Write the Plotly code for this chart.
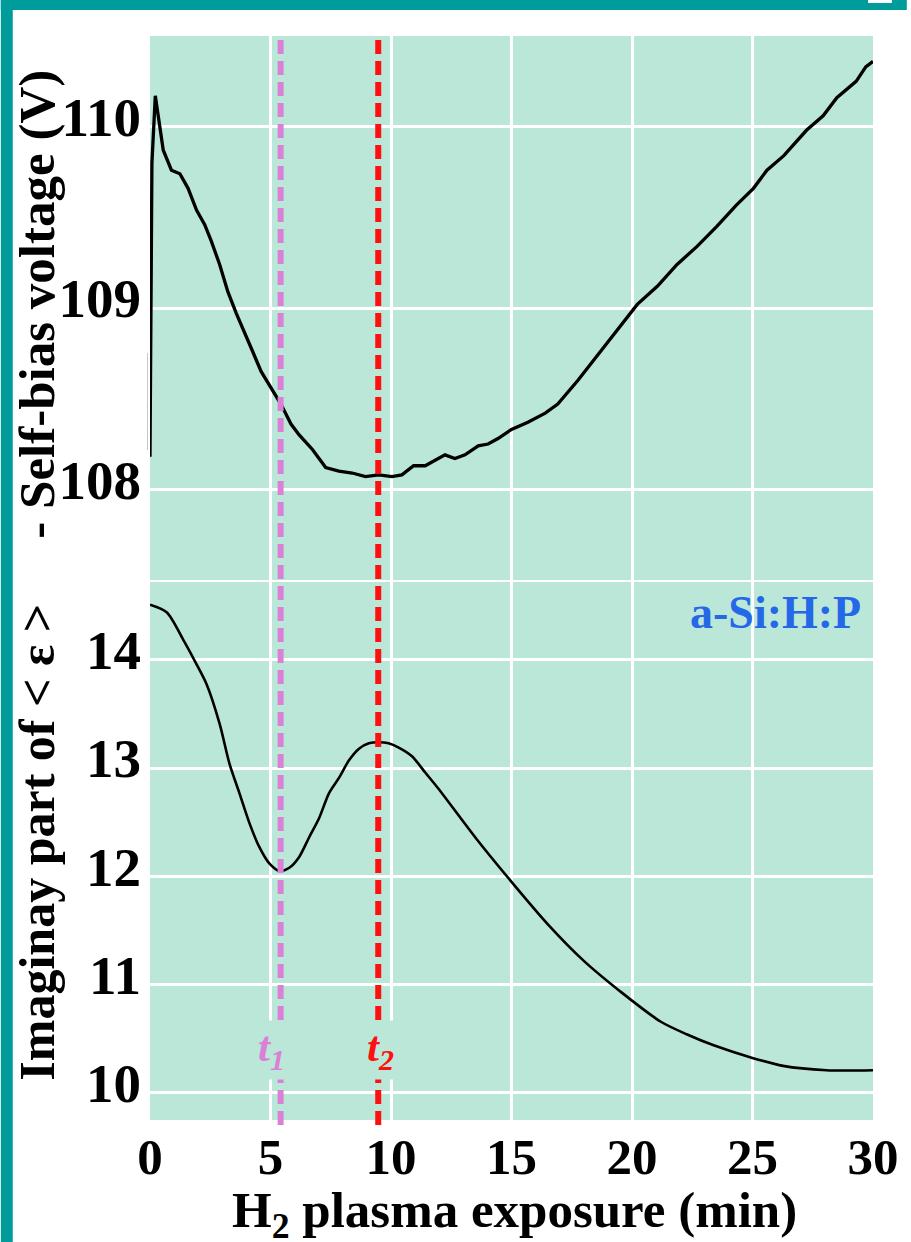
import plotly.graph_objects as go

# ---------------- data ----------------
time_top = [0.0, 0.08, 0.22, 0.55, 0.89, 1.24, 1.58, 1.93, 2.27, 2.54, 2.89, 3.23, 3.58,
            3.92, 4.26, 4.61, 5.02, 5.43, 5.85, 6.19, 6.74, 7.29, 7.84, 8.39, 8.94,
            9.49, 10.04, 10.45, 10.94, 11.42, 12.24, 12.65, 13.07, 13.62, 14.03, 14.44,
            15.0, 15.68, 16.4, 16.92, 17.75, 18.57, 19.40, 20.22, 21.05, 21.87, 22.70, 23.52,
            24.35, 25.04, 25.6, 26.3, 27.24, 27.93, 28.5, 29.3, 29.7, 30.0]
bias_voltage = [108.18, 109.8, 110.17, 109.87, 109.76, 109.74, 109.66, 109.54, 109.46, 109.37,
                109.24, 109.09, 108.97, 108.87, 108.76, 108.65, 108.56, 108.47, 108.36,
                108.30, 108.22, 108.12, 108.10, 108.09, 108.07, 108.08, 108.07, 108.08,
                108.13, 108.13, 108.19, 108.17, 108.19, 108.24, 108.25, 108.28, 108.33,
                108.37, 108.42, 108.47, 108.60, 108.74, 108.88, 109.02, 109.12, 109.24, 109.34,
                109.45, 109.57, 109.66, 109.76, 109.84, 109.98, 110.06, 110.16, 110.25,
                110.33, 110.36]

time_bottom = [0.0, 0.69, 1.37, 1.86, 2.34, 2.89, 3.30, 3.71, 4.13, 4.54, 4.95, 5.37, 5.78,
               6.19, 6.60, 7.02, 7.43, 7.84, 8.25, 8.67, 9.08, 9.49, 9.90, 10.32, 10.87,
               11.42, 11.97, 13.5, 15.0, 16.5, 18.0, 19.5, 21.18, 22.29, 23.39, 24.9, 26.27,
               28.06, 30.0]
eps_imag = [14.51, 14.44, 14.19, 13.99, 13.78, 13.41, 13.04, 12.77, 12.49, 12.27, 12.12,
            12.05, 12.08, 12.18, 12.36, 12.54, 12.77, 12.91, 13.07, 13.18, 13.23, 13.24,
            13.23, 13.19, 13.11, 12.96, 12.81, 12.36, 11.95, 11.56, 11.22, 10.94, 10.66,
            10.54, 10.44, 10.33, 10.25, 10.21, 10.21]

x_ticks = [0, 5, 10, 15, 20, 25, 30]
x_grid = [5, 10, 15, 20, 25]
top_y_ticks = [108, 109, 110]
bottom_y_ticks = [10, 11, 12, 13, 14]
t_markers = [5.42, 9.47]
t_labels = ["t<sub>1</sub>", "t<sub>2</sub>"]
t_colors = ["#DA80D6", "#FF1010"]
material_label = "a-Si:H:P"

# ---------------- geometry helpers ----------------
W, H = 911, 1242
L, R, T, B = 150, 34, 36, 122
PW, PH = W - L - R, H - T - B


def px_x(x):
    return (x - L) / PW


def px_y(y):
    return (H - B - y) / PH


BG = "#BBE7D8"
TEAL = "#009B9B"
FONT = "Liberation Serif"

fig = go.Figure()
fig.add_trace(go.Scatter(x=time_top, y=bias_voltage, xaxis="x2", yaxis="y2", mode="lines",
                         line=dict(color="black", width=3.3), showlegend=False,
                         cliponaxis=False))
fig.add_trace(go.Scatter(x=time_bottom, y=eps_imag, xaxis="x", yaxis="y", mode="lines",
                         line=dict(color="black", width=2.6, shape="spline", smoothing=0.8),
                         showlegend=False))

tickfont_y = dict(family=FONT, size=55, color="black", weight="bold")
tickfont_x = dict(family=FONT, size=51, color="black", weight="bold")
minor_grid = dict(tickvals=x_grid, showgrid=True, gridcolor="white", gridwidth=2.5, ticklen=0)

fig.update_layout(
    width=W, height=H,
    margin=dict(l=L, r=R, t=T, b=B),
    paper_bgcolor="white", plot_bgcolor=BG,
    showlegend=False,
    xaxis=dict(domain=[0, 1], anchor="y", range=[0, 30], tickvals=x_ticks,
               showgrid=False, zeroline=False, showline=False, ticks="",
               tickfont=tickfont_x, ticklabelstandoff=2, minor=minor_grid),
    xaxis2=dict(domain=[0, 1], anchor="y2", range=[0, 30], matches="x",
                showticklabels=False, showgrid=False, zeroline=False, ticks="",
                minor=minor_grid),
    yaxis=dict(domain=[0, px_y(582)], range=[9.75, 14.72], tickvals=bottom_y_ticks,
               showgrid=True, gridcolor="white", gridwidth=2.5, zeroline=False, ticks="",
               tickfont=tickfont_y, ticklabelstandoff=8, ticklabelshift=-10),
    yaxis2=dict(domain=[px_y(580), 1], range=[107.5, 110.5], tickvals=top_y_ticks,
                showgrid=True, gridcolor="white", gridwidth=2.5, zeroline=False, ticks="",
                tickfont=tickfont_y, ticklabelstandoff=8, ticklabelshift=-10),
)

shapes = []
# teal frame (left and top bands)
shapes.append(dict(type="rect", xref="paper", yref="paper", x0=px_x(0), x1=px_x(12),
                   y0=px_y(H), y1=px_y(0), fillcolor=TEAL, line=dict(width=0), layer="above"))
shapes.append(dict(type="rect", xref="paper", yref="paper", x0=px_x(0), x1=px_x(W),
                   y0=px_y(10), y1=px_y(0), fillcolor=TEAL, line=dict(width=0), layer="above"))
shapes.append(dict(type="rect", xref="paper", yref="paper", x0=px_x(872), x1=px_x(896),
                   y0=px_y(3), y1=px_y(0), fillcolor="white", line=dict(width=0), layer="above"))
# thin grey artefact line at left edge
shapes.append(dict(type="line", xref="paper", yref="paper", x0=px_x(147.5), x1=px_x(147.5),
                   y0=px_y(450), y1=px_y(353), line=dict(color="#C8C8C8", width=1), layer="above"))
# dashed time markers
for t, c in zip(t_markers, t_colors):
    shapes.append(dict(type="line", xref="x", yref="paper", x0=t, x1=t,
                       y0=px_y(1125), y1=px_y(40),
                       line=dict(color=c, width=6, dash="14px,7px"), layer="above"))
fig.update_layout(shapes=shapes)

ann = []
ann.append(dict(text="<b>H<sub>2</sub> plasma exposure (min)</b>", xref="paper", yref="paper",
                x=px_x(517), y=px_y(1214), xanchor="center", yanchor="middle", showarrow=False,
                font=dict(family=FONT, size=51, color="black")))
ann.append(dict(text="<b>- Self-bias voltage (V)</b>", xref="paper", yref="paper",
                x=px_x(36), y=px_y(304), xanchor="center", yanchor="middle", showarrow=False,
                textangle=-90, font=dict(family=FONT, size=51, color="black")))
ann.append(dict(text="<b>Imaginay part of &lt; ε &gt;</b>", xref="paper", yref="paper",
                x=px_x(36), y=px_y(842), xanchor="center", yanchor="middle", showarrow=False,
                textangle=-90, font=dict(family=FONT, size=50, color="black")))
ann.append(dict(text="<b>" + material_label + "</b>", xref="paper", yref="paper",
                x=px_x(867), y=px_y(612), xanchor="right", yanchor="middle", showarrow=False,
                font=dict(family=FONT, size=46, color="#2468E8")))
shifts = [-9, 2]
for t, lab, c, s in zip(t_markers, t_labels, t_colors, shifts):
    ann.append(dict(text="<b><i>" + lab + "</i></b>", xref="x", yref="paper",
                    x=t, y=px_y(1050), xshift=s, xanchor="center", yanchor="middle",
                    showarrow=False, bgcolor=BG, borderpad=2,
                    font=dict(family=FONT, size=43, color=c)))
fig.update_layout(annotations=ann)

fig.write_html("out.html", config={"displayModeBar": False},
               post_script="document.body.style.margin='0';document.body.style.overflow='hidden';")
